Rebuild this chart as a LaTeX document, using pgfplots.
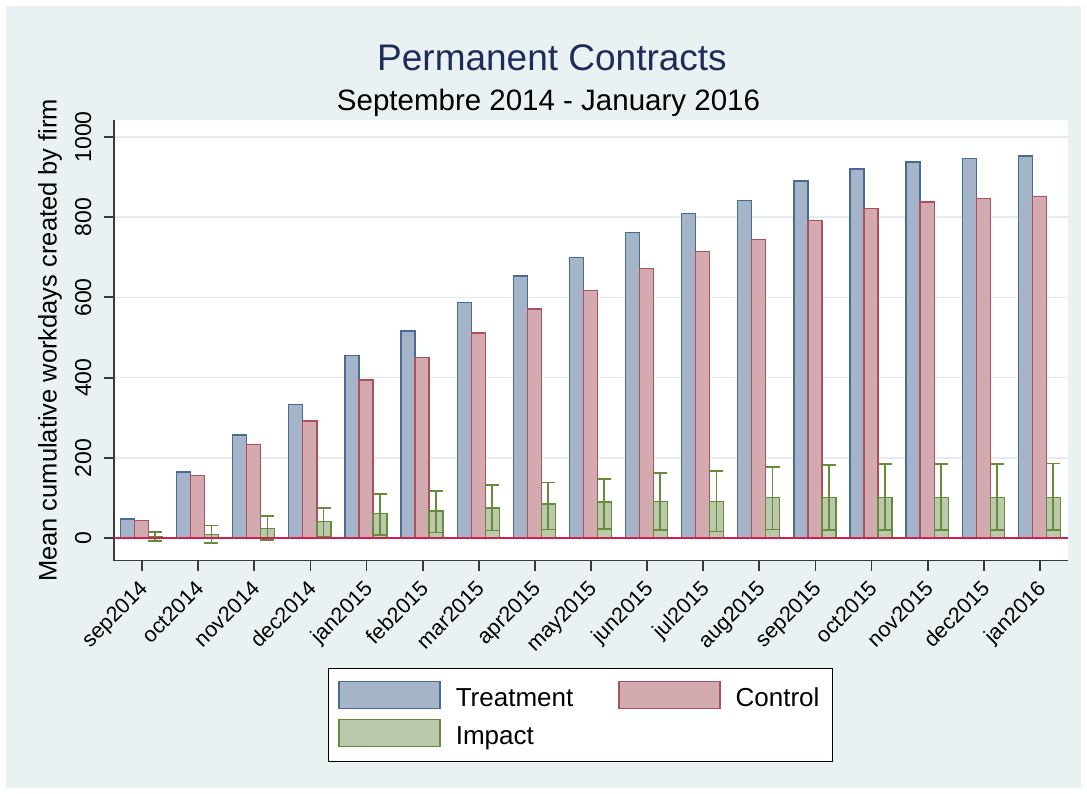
\documentclass[border=0pt]{standalone}
\usepackage{fontspec}
\setmainfont{Liberation Sans}
\usepackage{pgfplots}
\pgfplotsset{compat=1.18}
\definecolor{bgc}{HTML}{EAF1F3}
\definecolor{gridc}{HTML}{E4ECEF}
\definecolor{titlec}{HTML}{1E2C5A}
\definecolor{tfill}{HTML}{A4B5C9}
\definecolor{tdraw}{HTML}{4A6A93}
\definecolor{cfill}{HTML}{D3AAAF}
\definecolor{cdraw}{HTML}{B0505F}
\definecolor{ifill}{HTML}{BBC9AA}
\definecolor{idraw}{HTML}{648C3C}
\definecolor{zeroc}{HTML}{D0204F}
\definecolor{axc}{HTML}{3A3A3A}
\begin{document}
\begin{tikzpicture}
\fill[white] (0pt,0pt) rectangle (1087pt,794pt);
\fill[bgc] (6pt,6pt) rectangle (1081pt,788pt);
\node[anchor=base, inner sep=0pt, font=\fontsize{37}{40}\selectfont, text=titlec] at (552pt,723pt) {Permanent Contracts};
\node[anchor=base, inner sep=0pt, font=\fontsize{29.5}{32}\selectfont] at (548.5pt,683pt) {Septembre 2014 - January 2016};
\begin{axis}[
  at={(114pt,233.3pt)}, anchor=south west,
  scale only axis, width=954pt, height=440.7pt,
  xmin=-0.5, xmax=16.5, ymin=-56, ymax=1042,
  axis background/.style={fill=white},
  axis x line*=bottom, axis y line*=left,
  axis line style={-, line width=1.6pt, color=axc},
  ybar, bar width=0.25,
  xtick={0,...,16},
  xticklabels={sep2014,oct2014,nov2014,dec2014,jan2015,feb2015,mar2015,apr2015,may2015,jun2015,jul2015,aug2015,sep2015,oct2015,nov2015,dec2015,jan2016},
  ytick={0,200,400,600,800,1000},
  scaled y ticks=false,
  /pgf/number format/1000 sep={},
  /pgf/number format/assume math mode=true,
  tick align=outside, major tick length=10pt,
  tick style={line width=1.8pt, color=axc},
  ymajorgrids, major grid style={color=gridc, line width=1.5pt},
  xticklabel shift=7pt,
  yticklabel shift=9pt,
  xticklabel style={xshift=-4pt, rotate=45, anchor=north east, inner sep=1pt, font=\fontsize{21.5}{24}\selectfont},
  yticklabel style={rotate=90, anchor=south, font=\fontsize{23}{26}\selectfont},
  ylabel={Mean cumulative workdays created by firm},
  ylabel style={at={(axis description cs:-0.067,0.5)}, anchor=center, font=\fontsize{25.5}{28}\selectfont},
  legend columns=2,
  legend image code/.code={\draw[#1, line width=1.3pt] (0pt,-10.8pt) rectangle (101pt,16.2pt);},
  legend style={at={(0.2243,-0.2435)}, anchor=north west, draw=black, line width=1pt, fill=white,
    font=\fontsize{26}{30}\selectfont, inner xsep=10pt, inner ysep=12.5pt,
    nodes={inner sep=3pt},
    /tikz/every even column/.append style={column sep=42pt},
    /tikz/every odd column/.append style={column sep=12pt},
    row sep=8pt},
  legend cell align=left,
]
\addplot[fill=tfill, draw=tdraw, line width=1.3pt, bar shift=-0.26] coordinates {
(0,48) (1,165) (2,257) (3,334) (4,456) (5,516) (6,588) (7,653) (8,700) (9,762)
(10,809) (11,842) (12,890) (13,920) (14,937) (15,946) (16,952)};
\addlegendentry{Treatment}
\addplot[fill=cfill, draw=cdraw, line width=1.3pt, bar shift=-0.01] coordinates {
(0,45) (1,157) (2,234) (3,292) (4,394) (5,451) (6,511) (7,571) (8,618) (9,672)
(10,715) (11,745) (12,792) (13,822) (14,838) (15,847) (16,852)};
\addlegendentry{Control}
\addplot[fill=ifill, draw=idraw, line width=1.3pt, bar shift=0.24] coordinates {
(0,5) (1,10) (2,25) (3,42) (4,62) (5,68) (6,75) (7,85) (8,90) (9,92)
(10,92) (11,102) (12,102) (13,102) (14,102) (15,102) (16,102)};
\addlegendentry{Impact}
\addplot[forget plot, draw=none, fill=none, bar shift=0.235,
  error bars/.cd, y dir=both, y explicit,
  error bar style={line width=1.7pt, color=idraw, solid},
  error mark options={line width=1.7pt, color=idraw, mark size=7pt, rotate=90}] coordinates {
(0,5) += (0,10) -= (0,12)
(1,10) += (0,22) -= (0,22)
(2,25) += (0,30) -= (0,30)
(3,42) += (0,34) -= (0,39)
(4,62) += (0,49) -= (0,54)
(5,68) += (0,50) -= (0,54)
(6,75) += (0,58) -= (0,56)
(7,85) += (0,54) -= (0,63)
(8,90) += (0,58) -= (0,67)
(9,92) += (0,70) -= (0,72)
(10,92) += (0,75) -= (0,75)
(11,102) += (0,76) -= (0,80)
(12,102) += (0,80) -= (0,82)
(13,102) += (0,83) -= (0,82)
(14,102) += (0,83) -= (0,82)
(15,102) += (0,83) -= (0,82)
(16,102) += (0,84) -= (0,82)
};
\draw[zeroc, line width=1.5pt] (axis cs:-0.5,0) -- (axis cs:16.5,0);
\end{axis}
\end{tikzpicture}
\end{document}
